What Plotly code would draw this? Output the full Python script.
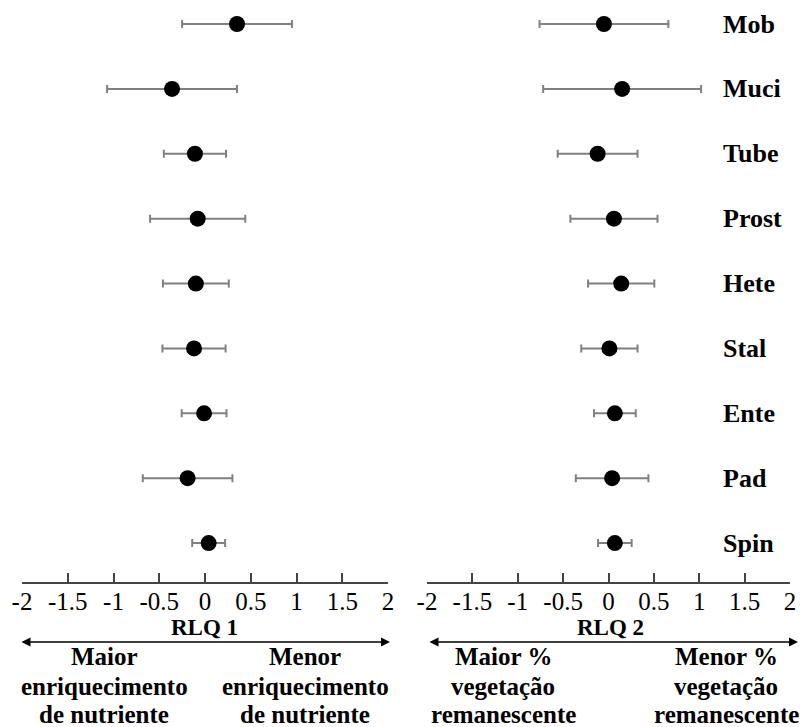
import plotly.graph_objects as go

# ---- data ----
categories = ["Mob", "Muci", "Tube", "Prost", "Hete", "Stal", "Ente", "Pad", "Spin"]
rlq1_mean = [0.35, -0.36, -0.11, -0.08, -0.10, -0.12, -0.01, -0.19, 0.04]
rlq1_err = [0.60, 0.71, 0.34, 0.52, 0.36, 0.345, 0.245, 0.49, 0.18]
rlq2_mean = [-0.05, 0.15, -0.12, 0.06, 0.14, 0.01, 0.07, 0.04, 0.07]
rlq2_err = [0.71, 0.87, 0.44, 0.48, 0.365, 0.31, 0.23, 0.40, 0.185]
tick_vals = [-2, -1.5, -1, -0.5, 0, 0.5, 1, 1.5, 2]
tick_labels = ["-2", "-1.5", "-1", "-0.5", "0", "0.5", "1", "1.5", "2"]
axis_titles = ["RLQ 1", "RLQ 2"]
left_low = ["Maior", "enriquecimento", "de nutriente"]
left_high = ["Menor", "enriquecimento", "de nutriente"]
right_low = ["Maior %", "vegetação", "remanescente"]
right_high = ["Menor %", "vegetação", "remanescente"]

W, H = 800, 727
SERIF = "Liberation Serif"
ypos = list(range(len(categories), 0, -1))


def px(x):
    return x / W


def py(y):
    return (H - y) / H


fig = go.Figure()
for mean, err, xa in [(rlq1_mean, rlq1_err, "x"), (rlq2_mean, rlq2_err, "x2")]:
    fig.add_trace(go.Scatter(
        x=mean, y=ypos, mode="markers", xaxis=xa, yaxis="y",
        marker=dict(color="black", size=16),
        error_x=dict(type="data", array=err, visible=True, color="#808080",
                     thickness=2, width=4),
        showlegend=False, hoverinfo="skip",
    ))

axis_common = dict(
    range=[-2, 2], tickvals=tick_vals, ticktext=tick_labels,
    showline=True, linecolor="#444", linewidth=2,
    ticks="inside", ticklen=9, tickwidth=2, tickcolor="#444",
    tickfont=dict(family=SERIF, size=25, color="black"),
    ticklabelstandoff=-4,
    showgrid=False, zeroline=False, anchor="y", fixedrange=True,
    automargin=False,
)

fig.update_layout(
    width=W, height=H,
    margin=dict(l=0, r=0, t=0, b=0, autoexpand=False),
    paper_bgcolor="white", plot_bgcolor="white",
    xaxis=dict(domain=[px(22), px(388)], **axis_common),
    xaxis2=dict(domain=[px(427), px(790)], **axis_common),
    yaxis=dict(domain=[145 / H, 1], range=[0.40, 9.37], visible=False,
               fixedrange=True, automargin=False),
)

ann = []
# category labels
for c, yv in zip(categories, ypos):
    ann.append(dict(x=px(721), y=yv, xref="paper", yref="y", text="<b>%s</b>" % c,
                    showarrow=False, xanchor="left", yanchor="middle",
                    font=dict(family=SERIF, size=26, color="black")))
# axis titles
for t, cx in zip(axis_titles, [205, 610]):
    ann.append(dict(x=px(cx), y=py(627), xref="paper", yref="paper", text="<b>%s</b>" % t,
                    showarrow=False, xanchor="center", yanchor="middle",
                    font=dict(family=SERIF, size=23, color="black")))
# double arrows
for x0, x1 in [(20, 390), (428, 798)]:
    ann.append(dict(x=px(x1), y=py(642), ax=x0 - x1, ay=0,
                    xref="paper", yref="paper", axref="pixel", ayref="pixel",
                    text="", showarrow=True, arrowhead=2, arrowside="end+start",
                    arrowsize=1.2, arrowwidth=1.5, arrowcolor="black"))
# descriptive text blocks
line_y = [656, 686, 714]
for lines, cx in [(left_low, 104), (left_high, 305), (right_low, 503), (right_high, 726)]:
    for ln, yy in zip(lines, line_y):
        ann.append(dict(x=px(cx), y=py(yy), xref="paper", yref="paper",
                        text="<b>%s</b>" % ln, showarrow=False,
                        xanchor="center", yanchor="middle",
                        font=dict(family=SERIF, size=25, color="black")))

fig.update_layout(annotations=ann)
fig.write_html("out.html", config={"displayModeBar": False},
               post_script="document.body.style.margin='0';document.body.style.overflow='hidden';")
